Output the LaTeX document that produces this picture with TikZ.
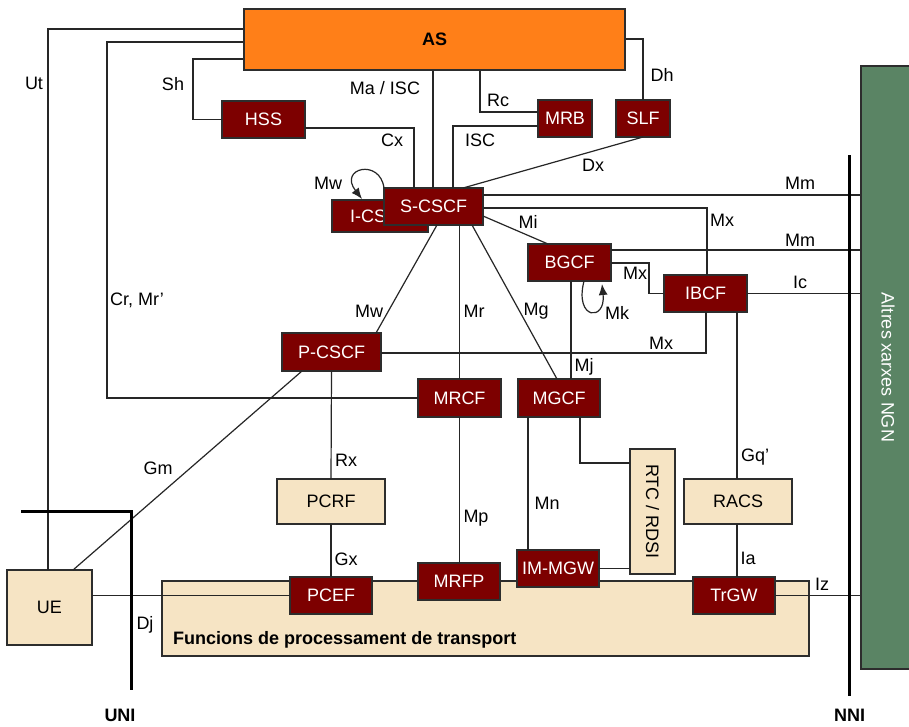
\documentclass[tikz,border=0pt]{standalone}
\usepackage{fontspec}
\setmainfont{Liberation Sans}
\usetikzlibrary{arrows.meta}
\definecolor{asorange}{RGB}{255,127,24}
\definecolor{fered}{RGB}{125,0,0}
\definecolor{beige}{RGB}{246,228,196}
\definecolor{ngngreen}{RGB}{90,132,100}
\definecolor{edgegray}{RGB}{45,45,45}
\begin{document}
\begin{tikzpicture}[x=1pt,y=-1pt,
  every node/.style={font=\fontsize{18}{21}\selectfont},
  sz/.style 2 args={minimum width=#1, minimum height=#2},
  fe/.style={draw=edgegray, line width=1.3pt, fill=fered, text=white, inner sep=0pt, outer sep=0pt},
  bx/.style={draw=edgegray, line width=1.3pt, fill=beige, text=black, inner sep=0pt, outer sep=0pt},
  conn/.style={draw=black!85, line width=1.2pt},
  lab/.style={inner sep=0pt, text=black},
  bar/.style={draw=black, line width=3pt},
  loopar/.style={conn, -{Latex[length=11pt,width=9pt]}}
]
\useasboundingbox (0,0) rectangle (909,726);
\fill[white] (0,0) rectangle (909,726);

% big boxes
\node[draw=edgegray, line width=1.3pt, fill=asorange, inner sep=0pt, sz={381pt}{61pt}, font=\fontsize{18}{21}\selectfont\bfseries] (AS) at (434.5,39.5) {AS};
\node[draw=edgegray, line width=1.3pt, fill=ngngreen, inner sep=0pt, sz={54pt}{603pt}] (green) at (888,367.5) {};
\node[text=white, rotate=-90, inner sep=0pt] (ngntext) at (888,367.5) {Altres xarxes NGN};
\node[bx, sz={647pt}{75pt}] (transport) at (485.5,618.5) {};
\node[lab, anchor=west, font=\fontsize{18}{21}\selectfont\bfseries] (transtext) at (173,640) {Funcions de processament de transport};

% functional entities
\node[bx, sz={85pt}{75pt}] (UE) at (49.5,607.5) {UE};
\node[fe, sz={82pt}{37pt}] (PCEF) at (331,595.5) {PCEF};
\node[fe, sz={82pt}{37pt}] (MRFP) at (459,581.5) {MRFP};
\node[fe, sz={82pt}{37pt}] (IMMGW) at (558,568.5) {IM-MGW};
\node[bx, sz={45pt}{125pt}] (RTC) at (652.5,511.5) {};
\node[text=black, rotate=-90, inner sep=0pt] (rtctext) at (652.5,511.5) {RTC / RDSI};
\node[bx, sz={108pt}{45pt}] (RACS) at (738,501.5) {RACS};
\node[fe, sz={82pt}{37pt}] (TrGW) at (734,595.5) {TrGW};
\node[bx, sz={108pt}{45pt}] (PCRF) at (331,501.5) {PCRF};
\node[fe, sz={99pt}{38pt}] (PCSCF) at (331.5,352) {P-CSCF};
\node[fe, sz={83pt}{38pt}] (MRCF) at (459.5,398) {MRCF};
\node[fe, sz={82pt}{38pt}] (MGCF) at (559,398) {MGCF};
\node[fe, sz={83pt}{37pt}] (BGCF) at (569.5,262.5) {BGCF};
\node[fe, sz={83pt}{37pt}] (IBCF) at (705.5,293.5) {IBCF};
\node[fe, sz={96pt}{32pt}] (ICSCF) at (380,216) {I-CSCF};
\node[fe, sz={99pt}{37pt}] (SCSCF) at (433.5,206.5) {S-CSCF};
\node[fe, sz={83pt}{37pt}] (HSS) at (263.5,119.5) {HSS};
\node[fe, sz={54pt}{37pt}] (MRB) at (565,118.5) {MRB};
\node[fe, sz={54pt}{37pt}] (SLF) at (643,118.5) {SLF};

% helper levels
\coordinate (ut) at (48,29);
\coordinate (cr) at (107,42);
\coordinate (sh) at (193,59);
\coordinate (cx) at (414,128);
\coordinate (ma) at (433,100);
\coordinate (rc) at (480,112);
\coordinate (isc) at (453,126);
\coordinate (dh) at (643,39);
\coordinate (dx) at (463,188);
\coordinate (mm1) at (700,195);
\coordinate (mx1) at (707,208);
\coordinate (mm2) at (700,250);
\coordinate (mx2) at (649,263);
\coordinate (mx3) at (706,353);
\coordinate (mi1) at (483,216);
\coordinate (mi2) at (548,244);
\coordinate (mw1) at (437,225);
\coordinate (mw2) at (376,333);
\coordinate (mg1) at (472,225);
\coordinate (mg2) at (557,379);
\coordinate (mj) at (571,300);
\coordinate (gm1) at (302,371);
\coordinate (gm2) at (73,570);
\coordinate (mn) at (528,500);
\coordinate (rtc) at (580,463);
\coordinate (gq) at (737,450);
\coordinate (mwa) at (362,199);
\coordinate (mka) at (602,284);

% connectors
\draw[conn] (AS.west |- ut) -- (ut) -- (UE.north -| ut);
\draw[conn] (AS.west |- cr) -- (cr) |- (MRCF.west);
\draw[conn] (AS.west |- sh) -- (sh) |- (HSS.west);
\draw[conn] (HSS.east |- cx) -- (cx) -- (SCSCF.north -| cx);
\draw[conn] (AS.south -| ma) -- (SCSCF.north -| ma);
\draw[conn] (AS.south -| rc) |- (MRB.west |- rc);
\draw[conn] (MRB.west |- isc) -| (SCSCF.north -| isc);
\draw[conn] (AS.east |- dh) -| (SLF.north);
\draw[conn] (SLF.south) -- (SCSCF.north -| dx);
\draw[conn] (SCSCF.east |- mm1) -- (green.west |- mm1);
\draw[conn] (SCSCF.east |- mx1) -| (IBCF.north -| mx1);
\draw[conn] (BGCF.east |- mm2) -- (green.west |- mm2);
\draw[conn] (BGCF.east |- mx2) -- (mx2) |- (IBCF.west);
\draw[conn] (IBCF.east) -- (green.west |- IBCF.east);
\draw[conn] (SCSCF.east |- mi1) -- (BGCF.north -| mi2);
\draw[conn] (SCSCF.south -| mw1) -- (PCSCF.north -| mw2);
\draw[conn] (SCSCF.south -| MRCF.north) -- (MRCF.north);
\draw[conn] (SCSCF.south -| mg1) -- (MGCF.north -| mg2);
\draw[conn] (BGCF.south -| mj) -- (MGCF.north -| mj);
\draw[conn] (PCSCF.east |- mx3) -| (IBCF.south -| mx3);
\draw[conn] (PCSCF.south -| gm1) -- (UE.north -| gm2);
\draw[conn] (PCSCF.south) -- (PCRF.north);
\draw[conn] (PCRF.south) -- (PCEF.north);
\draw[conn] (UE.east |- PCEF.west) -- (PCEF.west);
\draw[conn] (MRCF.south) -- (MRFP.north -| MRCF.south);
\draw[conn] (MGCF.south -| mn) -- (IMMGW.north -| mn);
\draw[conn] (MGCF.south -| rtc) |- (RTC.west |- rtc);
\draw[conn] (IMMGW.east) -- (RTC.west |- IMMGW.east);
\draw[conn] (IBCF.south -| gq) -- (RACS.north -| gq);
\draw[conn] (RACS.south -| gq) -- (TrGW.north -| gq);
\draw[conn] (TrGW.east) -- (green.west |- TrGW.east);
% loops
\draw[loopar] (SCSCF.north west) .. controls (380,158) and (338,168) .. (mwa);
\draw[loopar] (BGCF.south -| 584,0) .. controls (574,320) and (606,322) .. (mka);

% UNI / NNI bars
\coordinate (uni1) at (21,511);
\coordinate (uni2) at (131,511);
\coordinate (uni3) at (131,690);
\draw[bar] (uni1) -- (uni2) -- (uni3);
\coordinate (nni1) at (849,155);
\coordinate (nni2) at (849,696);
\draw[bar] (nni1) -- (nni2);
\node[lab, font=\fontsize{18}{21}\selectfont\bfseries] (UNI) at (120,715) {UNI};
\node[lab, font=\fontsize{18}{21}\selectfont\bfseries] (NNI) at (849.5,715) {NNI};

% interface labels
\node[lab] at (34,83) {Ut};
\node[lab, anchor=west] at (110,300) {Cr, Mr’};
\node[lab] at (173,84) {Sh};
\node[lab] at (385,88) {Ma / ISC};
\node[lab] at (392,140) {Cx};
\node[lab] at (498,100) {Rc};
\node[lab] at (480,140) {ISC};
\node[lab] at (662,75) {Dh};
\node[lab] at (593,165) {Dx};
\node[lab] at (328,183) {Mw};
\node[lab] at (800,183) {Mm};
\node[lab] at (722,220) {Mx};
\node[lab] at (528,222) {Mi};
\node[lab] at (800,240) {Mm};
\node[lab] at (635,273) {Mx};
\node[lab] at (800,282) {Ic};
\node[lab] at (617,313) {Mk};
\node[lab] at (369,311) {Mw};
\node[lab] at (474,311) {Mr};
\node[lab] at (536,311) {Mg};
\node[lab] at (661,343) {Mx};
\node[lab] at (584,367) {Mj};
\node[lab] at (158,468) {Gm};
\node[lab] at (346,460) {Rx};
\node[lab] at (346,559) {Gx};
\node[lab] at (476,518) {Mp};
\node[lab] at (547,503) {Mn};
\node[lab] at (755,457) {Gq’};
\node[lab] at (748,558) {Ia};
\node[lab] at (822,584) {Iz};
\node[lab] at (145,625) {Dj};
\end{tikzpicture}
\end{document}
